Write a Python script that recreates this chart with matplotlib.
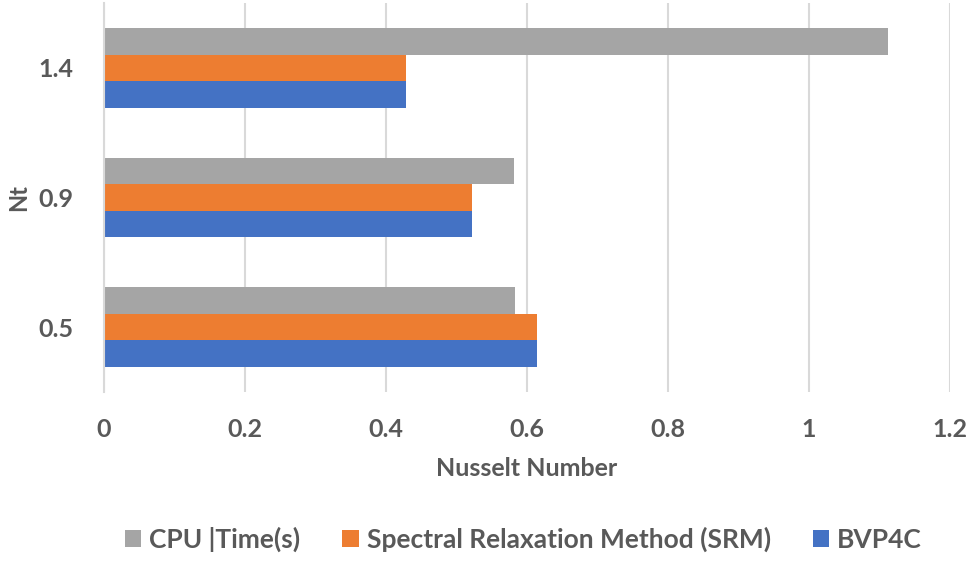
import matplotlib

matplotlib.use("Agg")
import matplotlib.pyplot as plt
import numpy as np

# Nt values (categories, bottom to top)
categories = ["0.5", "0.9", "1.4"]

# Nusselt number per method
bvp4c = [0.614, 0.522, 0.428]
srm = [0.614, 0.522, 0.428]
cpu_time = [0.583, 0.582, 1.112]

series_labels = ["BVP4C", "Spectral Relaxation Method (SRM)", "CPU |Time(s)"]
series_colors = ["#4472C4", "#ED7D31", "#A5A5A5"]

x_ticks = [0, 0.2, 0.4, 0.6, 0.8, 1.0, 1.2]
x_tick_labels = ["0", "0.2", "0.4", "0.6", "0.8", "1", "1.2"]

text_color = "#595959"
grid_color = "#D9D9D9"

plt.rcParams["font.family"] = ["Lato", "DejaVu Sans"]
plt.rcParams["font.weight"] = "bold"
plt.rcParams["axes.labelweight"] = "bold"

fig = plt.figure(figsize=(9.69, 5.66), dpi=100)
ax = fig.add_axes([0.1073, 0.3074, 0.8731, 0.6873])

y = np.arange(len(categories))
height = 0.205
handles = []
for idx, (values, label, color) in enumerate(zip([bvp4c, srm, cpu_time], series_labels, series_colors)):
    offset = (idx - 1) * height
    bars = ax.barh(y + offset, values, height=height, color=color, label=label, zorder=3)
    handles.append(bars)

ax.set_xlim(0, 1.2)
ax.set_ylim(-0.5, 2.5)
ax.set_xticks(x_ticks)
ax.set_xticklabels(x_tick_labels, fontweight="bold")
ax.set_yticks(y)
ax.set_yticklabels(categories, fontweight="bold")

ax.grid(axis="x", color=grid_color, linewidth=1.5, zorder=0)
for side in ["top", "right", "bottom"]:
    ax.spines[side].set_visible(False)
ax.spines["left"].set_color(grid_color)
ax.spines["left"].set_linewidth(1.5)
ax.spines["left"].set_zorder(4)

ax.tick_params(axis="both", length=0, labelsize=18, labelcolor=text_color)
ax.tick_params(axis="x", pad=19)
ax.tick_params(axis="y", pad=22)

ax.set_xlabel("Nusselt Number", fontsize=18, color=text_color, labelpad=11)
ax.set_ylabel("Nt", fontsize=17, color=text_color, labelpad=6)

# legend order as in the reference: CPU, SRM, BVP4C
fig.legend(
    handles[::-1],
    series_labels[::-1],
    loc="lower center",
    bbox_to_anchor=(0.54, -0.017),
    ncol=3,
    frameon=False,
    prop={"size": 19, "weight": "bold"},
    labelcolor=text_color,
    handlelength=0.62,
    handleheight=0.6,
    handletextpad=0.3,
    columnspacing=1.6,
)

fig.savefig("out.png", dpi=100)
